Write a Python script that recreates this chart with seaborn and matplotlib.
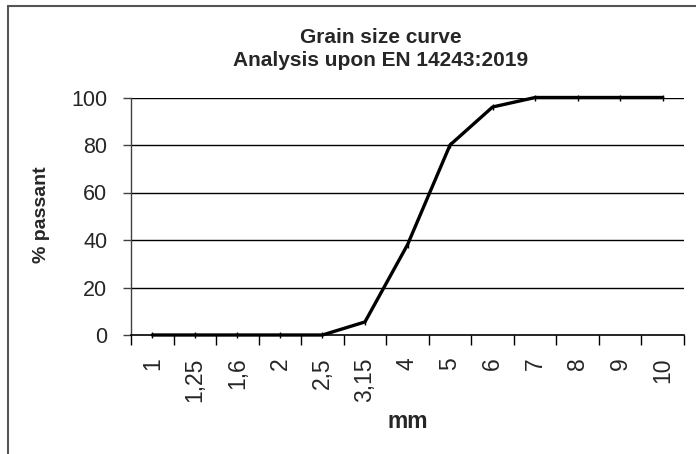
import matplotlib
matplotlib.use("Agg")
import matplotlib.pyplot as plt
import seaborn as sns
import pandas as pd
from matplotlib.lines import Line2D

sizes = ["1", "1,25", "1,6", "2", "2,5", "3,15", "4", "5", "6", "7", "8", "9", "10"]
passing = [0, 0, 0, 0, 0, 5.5, 38, 80, 96, 100, 100, 100, 100]
y_ticks = [0, 20, 40, 60, 80, 100]

df = pd.DataFrame({"mm": sizes, "passant": passing})

sns.set_theme(style="white")
plt.rcParams["font.family"] = ["Liberation Sans", "DejaVu Sans"]

W, H = 696, 454
fig = plt.figure(figsize=(W / 100, H / 100), dpi=100)
ax = fig.add_axes([131 / W, 1 - 335 / H, (684 - 131) / W, (335 - 97.5) / H])

sns.lineplot(data=df, x="mm", y="passant", sort=False, color="black", lw=2.4,
             marker="|", markersize=5, markeredgewidth=1, markeredgecolor="black", ax=ax)
for ln in ax.lines:
    ln.set_clip_on(False)

ax.set_xlim(-0.5, len(sizes) - 0.5)
ax.set_ylim(0, 100)
ax.set_yticks(y_ticks)
ax.set_yticklabels([str(v) for v in y_ticks], fontsize=15.5)
for v in y_ticks[1:]:
    ax.axhline(v, color="black", lw=1, zorder=0)

# labels in the middle of categories, tick marks on the boundaries
ax.set_xticks(range(len(sizes)))
ax.set_xticklabels(sizes, rotation=90, fontsize=16.5, va="top")
ax.set_xticks([i - 0.5 for i in range(len(sizes) + 1)], minor=True)
ax.tick_params(axis="x", which="major", length=0, pad=16)
ax.tick_params(axis="x", which="minor", length=7, width=1, color="black", direction="out", bottom=True)
ax.tick_params(axis="y", length=6, width=1, color="#404040", direction="out", left=True, pad=11)

for s in ["top", "right"]:
    ax.spines[s].set_visible(False)
ax.spines["left"].set_color("#404040")
ax.spines["bottom"].set_color("black")
ax.spines["left"].set_linewidth(1)
ax.spines["bottom"].set_linewidth(1.2)

ax.set_xlabel("")
ax.set_ylabel("")
fig.text(42 / W, 1 - 215 / H, "% passant", rotation=90, ha="center", va="center",
         fontsize=14, fontweight="bold")
fig.text(408 / W, 1 - 422 / H, "mm", ha="center", va="center", fontsize=16.5, fontweight="bold")
fig.text(381 / W, 1 - 43 / H, "Grain size curve", ha="center", va="baseline",
         fontsize=15, fontweight="bold")
fig.text(381 / W, 1 - 66 / H, "Analysis upon EN 14243:2019", ha="center", va="baseline",
         fontsize=15, fontweight="bold")

# chart area frame, only left and top edges fall inside the picture
fig.lines.append(Line2D([8 / W, 8 / W], [0, 1 - 6 / H], transform=fig.transFigure,
                        color="#555555", lw=1.5))
fig.lines.append(Line2D([8 / W, 1], [1 - 6 / H, 1 - 6 / H], transform=fig.transFigure,
                        color="#555555", lw=1.5))

fig.savefig("out.png", dpi=100)
